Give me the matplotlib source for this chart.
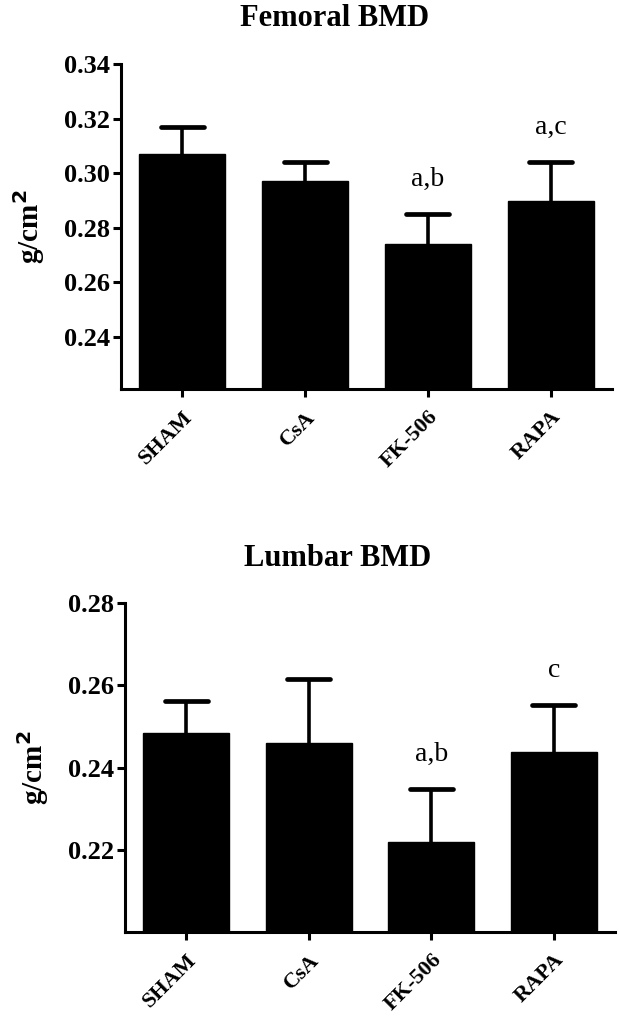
import matplotlib
matplotlib.use("Agg")
import matplotlib.pyplot as plt
import numpy as np

groups = ["SHAM", "CsA", "FK-506", "RAPA"]

femoral_mean = [0.307, 0.297, 0.274, 0.290]
femoral_err = [0.010, 0.0072, 0.011, 0.014]
femoral_sig = ["", "", "a,b", "a,c"]

lumbar_mean = [0.2485, 0.246, 0.222, 0.2437]
lumbar_err = [0.0077, 0.0155, 0.0127, 0.0115]
lumbar_sig = ["", "", "a,b", "c"]

femoral_ticks = [0.24, 0.26, 0.28, 0.30, 0.32, 0.34]
lumbar_ticks = [0.22, 0.24, 0.26, 0.28]

plt.rcParams['font.family'] = ['Liberation Serif', 'DejaVu Serif']

W, H = 619, 1024
fig = plt.figure(figsize=(W / 100, H / 100), dpi=100)


def px_axes(left, top, right, bottom):
    return fig.add_axes([left / W, 1 - bottom / H, (right - left) / W, (bottom - top) / H])


def draw(ax, means, errs, sigs, ticks, ylim, title, title_xy):
    x = np.arange(len(groups))
    means = np.array(means)
    errs = np.array(errs)
    ax.bar(x, means, width=0.7, color='black', edgecolor='black', zorder=2)
    ax.vlines(x, means, means + errs, colors='black', linewidth=2.6, zorder=1)
    ax.hlines(means + errs, x - 0.175, x + 0.175, colors='black', linewidth=3.4,
              zorder=1, capstyle='round')
    for xi, m, e, s in zip(x, means, errs, sigs):
        if s:
            ax.annotate(s, (xi, m + e), xytext=(0, 25), textcoords='offset points',
                        ha='center', va='center', fontsize=20)
    ax.set_xlim(-0.5, 3.5)
    ax.set_ylim(*ylim)
    ax.set_yticks(ticks)
    ax.set_yticklabels([f"{t:.2f}" for t in ticks], fontsize=19, fontweight='bold')
    ax.set_xticks(x)
    ax.set_xticklabels(groups, rotation=45, ha='right', rotation_mode='anchor',
                       fontsize=16, fontweight='bold')
    for sp in ['top', 'right']:
        ax.spines[sp].set_visible(False)
    for sp in ['left', 'bottom']:
        ax.spines[sp].set_linewidth(2.2)
    ax.tick_params(axis='both', width=2.2, length=6, pad=2)
    ax.tick_params(axis='x', pad=7)
    ax.set_ylabel("g/cm$^\\mathbf{2}$", fontsize=21, fontweight='bold', labelpad=12)
    fig.text(title_xy[0] / W, 1 - title_xy[1] / H, title, ha='center', va='baseline',
             fontsize=22, fontweight='bold')


ax1 = px_axes(121, 64, 612, 389)
draw(ax1, femoral_mean, femoral_err, femoral_sig, femoral_ticks, (0.221, 0.34),
     "Femoral BMD", (335, 26))

ax2 = px_axes(125, 603, 615, 932)
draw(ax2, lumbar_mean, lumbar_err, lumbar_sig, lumbar_ticks, (0.20, 0.28),
     "Lumbar BMD", (338, 566))

fig.savefig("out.png", dpi=100)
